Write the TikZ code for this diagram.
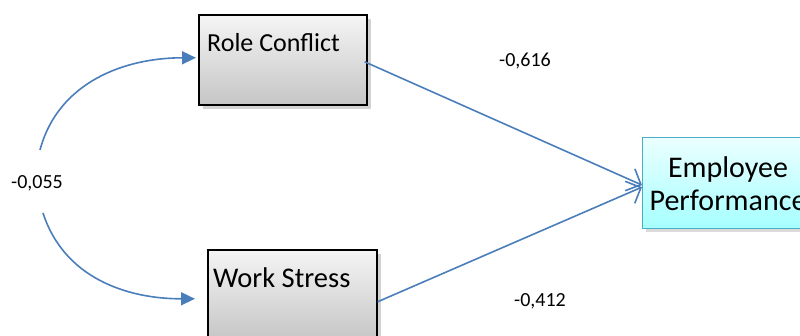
\documentclass[tikz,border=0pt]{standalone}
\usepackage{fontspec}
\setmainfont{Carlito}
\usetikzlibrary{arrows.meta,shadows}
\definecolor{lineblue}{HTML}{4A7EBB}
\definecolor{cyanborder}{HTML}{4BACC6}
\tikzset{
  graybox/.style={draw=black, line width=1.6pt, minimum width=168pt, minimum height=90pt,
    top color=gray!8, bottom color=gray!45, inner sep=0pt,
    drop shadow={shadow xshift=4pt, shadow yshift=-4pt, fill=gray!70, opacity=0.5}},
  cyanbox/.style={draw=cyanborder, line width=1.2pt, minimum width=165pt, minimum height=91pt,
    top color=cyan!8, bottom color=cyan!35, inner sep=0pt,
    drop shadow={shadow xshift=3pt, shadow yshift=-3pt, fill=gray!70, opacity=0.4}},
  boxtext/.style={font=\fontsize{26}{30}\selectfont, anchor=north west, inner sep=0pt},
  coef/.style={font=\fontsize{20}{24}\selectfont, inner sep=0pt},
  path/.style={draw=lineblue, line width=1.6pt},
  barb/.style={-{Straight Barb[length=12pt,width=24pt,line width=1.6pt]}},
  tri/.style={-{Triangle[length=14pt,width=13pt]}}
}
\begin{document}
\begin{tikzpicture}[x=1pt,y=-1pt]
\useasboundingbox (0,0) rectangle (800,336);
\node[graybox, anchor=north west] (rc) at (198,14) {};
\node[boxtext] (rct) at (207,33) {Role Conflict};
\node[graybox, anchor=north west, minimum width=169pt] (ws) at (207,249) {};
\node[boxtext, font=\fontsize{28.5}{32}\selectfont] (wst) at (213,268) {Work Stress};
\node[cyanbox, anchor=north west] (ep) at (642,137) {};
\node[font=\fontsize{30}{33}\selectfont, align=center, inner sep=0pt] (ept) at (728,184) {Employee\\Performance};
\node[coef] (l1) at (525,61) {-0,616};
\node[coef] (l2) at (37,183) {-0,055};
\node[coef] (l3) at (540,301) {-0,412};
\coordinate (c1) at (40,150);
\coordinate (c2) at (43,213);
\draw[path, tri] (c1) to[out=75, in=180] ([yshift=2pt,xshift=-2pt]rc.west);
\draw[path, tri] (c2) to[out=-72, in=180] ([xshift=-12pt,yshift=-4pt]ws.west);
\draw[path, barb] ([xshift=-3pt,yshift=-2pt]rc.east) -- ([yshift=-2pt]ep.west);
\draw[path, barb] ([yshift=-7pt]ws.east) -- ([yshift=-4pt]ep.west);
\end{tikzpicture}
\end{document}
